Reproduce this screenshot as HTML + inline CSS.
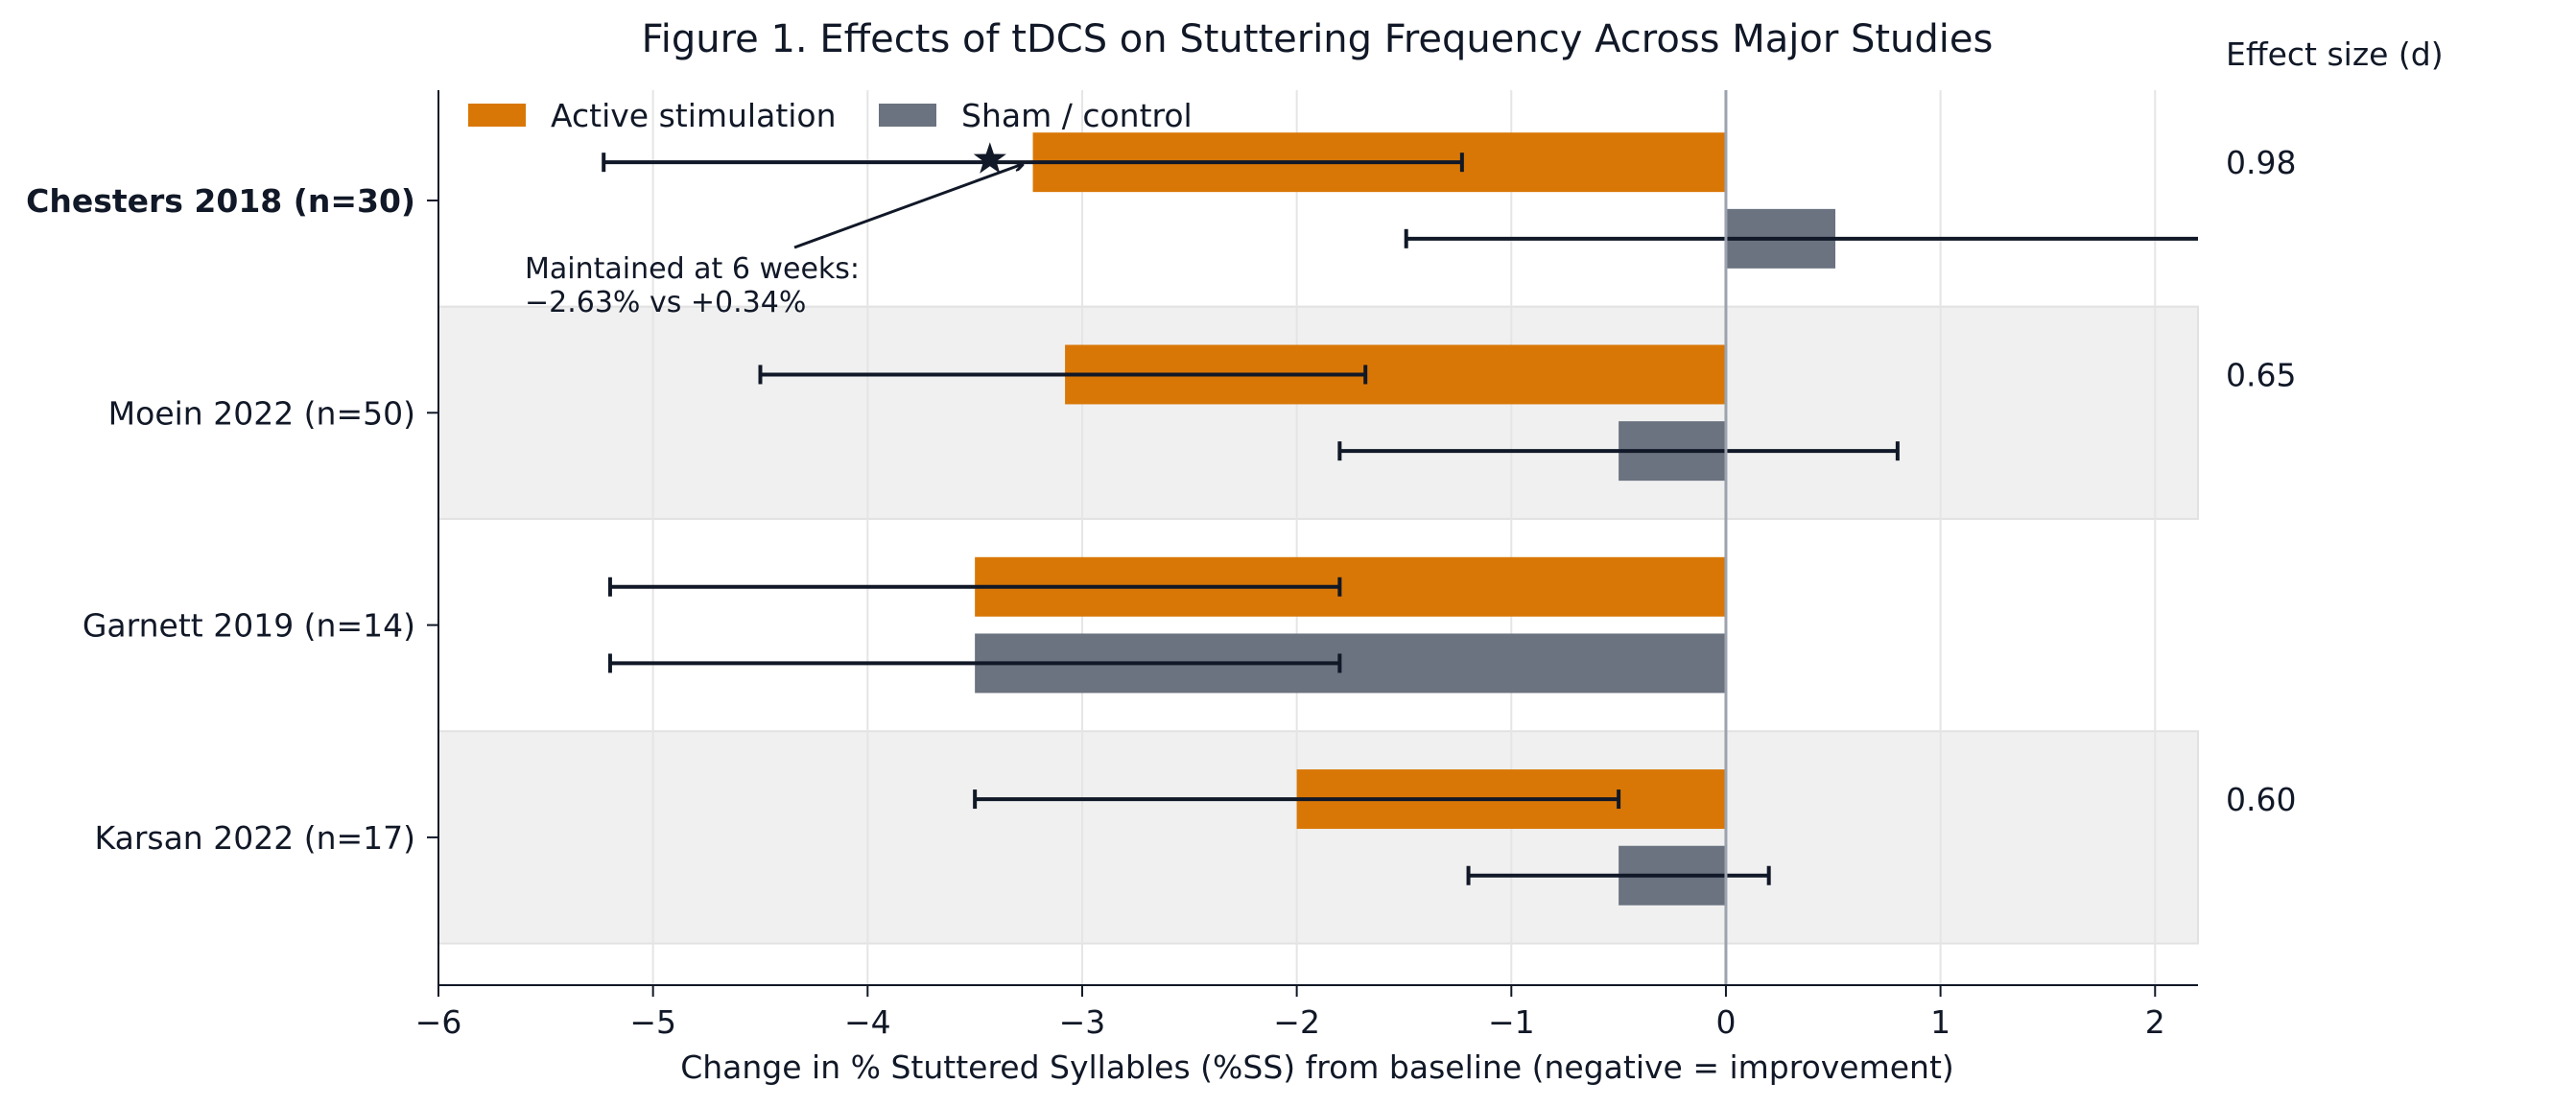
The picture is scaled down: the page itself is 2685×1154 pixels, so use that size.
<!DOCTYPE html>
<html><head><meta charset="utf-8"><style>
html,body{margin:0;padding:0;background:#fff;}
svg{display:block;font-family:"DejaVu Sans","Liberation Sans",sans-serif;}
</style></head><body>
<svg id="chart" width="2685" height="1154" viewBox="0 0 2685 1154" xmlns="http://www.w3.org/2000/svg">
<text x="1373" y="54" font-size="40" fill="#111827" text-anchor="middle">Figure 1. Effects of tDCS on Stuttering Frequency Across Major Studies</text>
<g id="bands"></g><g id="grid"></g><g id="bars"></g><g id="errs"></g><g id="axes"></g><g id="labels"></g>
</svg>
<script>
const studies = ["Chesters 2018 (n=30)", "Moein 2022 (n=50)", "Garnett 2019 (n=14)", "Karsan 2022 (n=17)"];
const activeMean = [-3.23, -3.08, -3.5, -2.0];
const activeLo = [-5.23, -4.5, -5.2, -3.5];
const activeHi = [-1.23, -1.68, -1.8, -0.5];
const shamMean = [0.51, -0.5, -3.5, -0.5];
const shamLo = [-1.49, -1.8, -5.2, -1.2];
const shamHi = [2.51, 0.8, -1.8, 0.2];
const effectSizes = ["0.98", "0.65", null, "0.60"];
const xTicks = [-6, -5, -4, -3, -2, -1, 0, 1, 2];
const xTickLabels = ["\u22126", "\u22125", "\u22124", "\u22123", "\u22122", "\u22121", "0", "1", "2"];

const NS = "http://www.w3.org/2000/svg";
const L = 457, R = 2291, T = 94, B = 1027;
const xMin = -6, xMax = 2.2;
const X = v => L + (v - xMin) / (xMax - xMin) * (R - L);
const Y = i => 209 + i * 221.3;
const U = 221.3;
function mk(parent, tag, attrs, text) {
  const e = document.createElementNS(NS, tag);
  for (const k in attrs) e.setAttribute(k, attrs[k]);
  if (text !== undefined) e.textContent = text;
  document.getElementById(parent).appendChild(e);
  return e;
}
studies.forEach((s, i) => {
  if (i % 2 === 1) {
    const b = mk('bands', 'rect', {x: L, y: Y(i) - U / 2, width: R - L, height: U, fill: '#f0f0f0', stroke: '#e2e2e2', 'stroke-width': 2});
    
    
  }
});
xTicks.forEach(t => {
  const g = mk('grid', 'line', {x1: X(t), x2: X(t), y1: T, y2: B, stroke: '#e5e5e5', 'stroke-width': 2});
  
  
});
const off = 0.18 * U, bh = 0.28 * U;
function bar(v, i, sign, color, name) {
  const x0 = Math.min(X(0), X(v)), w = Math.abs(X(v) - X(0));
  const r = mk('bars', 'rect', {x: x0, y: Y(i) + sign * off - bh / 2, width: w, height: bh, fill: color});
  
  
}
function err(lo, hi, i, sign, name) {
  const y = Y(i) + sign * off;
  const a = Math.max(X(lo), L), b = Math.min(X(hi), R);
  const g = document.createElementNS(NS, 'g');
  
  
  document.getElementById('errs').appendChild(g);
  const add = (x1, y1, x2, y2) => { const l = document.createElementNS(NS, 'line'); l.setAttribute('x1', x1); l.setAttribute('y1', y1); l.setAttribute('x2', x2); l.setAttribute('y2', y2); l.setAttribute('stroke', '#111827'); l.setAttribute('stroke-width', 4); g.appendChild(l); };
  add(a, y, b, y);
  if (X(lo) >= L) add(X(lo), y - 10, X(lo), y + 10);
  if (X(hi) <= R) add(X(hi), y - 10, X(hi), y + 10);
}
studies.forEach((s, i) => {
  bar(activeMean[i], i, -1, '#d97706', 'active-bar');
  bar(shamMean[i], i, 1, '#6b7280', 'sham-bar');
  err(activeLo[i], activeHi[i], i, -1, 'active-error-bar');
  err(shamLo[i], shamHi[i], i, 1, 'sham-error-bar');
  const t = mk('labels', 'text', {x: 433, y: Y(i) + 12, 'font-size': 33, 'text-anchor': 'end', fill: '#111827', 'font-weight': i === 0 ? 'bold' : 'normal'}, s);
  
  
  const tk = mk('axes', 'line', {x1: L - 12, x2: L, y1: Y(i), y2: Y(i), stroke: '#111827', 'stroke-width': 2});
  
  
  if (effectSizes[i]) {
    const e = mk('labels', 'text', {x: 2320, y: Y(i) - off + 12, 'font-size': 33, fill: '#111827'}, effectSizes[i]);
    
    
  }
});
const z = mk('axes', 'line', {x1: X(0), x2: X(0), y1: T, y2: B, stroke: '#9ca3af', 'stroke-width': 3});


const ax = mk('axes', 'line', {x1: L, x2: L, y1: T, y2: B, stroke: '#111827', 'stroke-width': 2});


const bx = mk('axes', 'line', {x1: L, x2: R, y1: B, y2: B, stroke: '#111827', 'stroke-width': 2});


xTicks.forEach((t, k) => {
  const tk = mk('axes', 'line', {x1: X(t), x2: X(t), y1: B, y2: B + 12, stroke: '#111827', 'stroke-width': 2});
  
  
  const tl = mk('labels', 'text', {x: X(t), y: B + 50, 'font-size': 33, 'text-anchor': 'middle', fill: '#111827'}, xTickLabels[k]);
  
  
});
const sx = X(-3.43), sy = Y(0) - off - 3;
let pts = [];
for (let k = 0; k < 10; k++) { const r = k % 2 ? 7 : 18; const a = -Math.PI / 2 + k * Math.PI / 5; pts.push((sx + r * Math.cos(a)).toFixed(1) + ',' + (sy + r * Math.sin(a)).toFixed(1)); }
const st = mk('labels', 'polygon', {points: pts.join(' '), fill: '#111827'});


</script>
<svg style="position:absolute;left:0;top:0" width="2685" height="1154" xmlns="http://www.w3.org/2000/svg">
<defs><marker id="ah" markerWidth="10" markerHeight="10" refX="9" refY="5" orient="auto" markerUnits="userSpaceOnUse"><path d="M0,0 L10,5 L0,10" fill="none" stroke="#111827" stroke-width="3"/></marker></defs>
<line x1="828" y1="258" x2="1066" y2="171" stroke="#111827" stroke-width="3" marker-end="url(#ah)"/>
<text x="547" y="290" font-size="30" fill="#111827" font-family="DejaVu Sans, Liberation Sans, sans-serif">Maintained at 6 weeks:</text>
<text x="547" y="325" font-size="30" fill="#111827" font-family="DejaVu Sans, Liberation Sans, sans-serif">−2.63% vs +0.34%</text>
<rect x="488" y="108" width="60" height="24" fill="#d97706"/>
<text x="574" y="132" font-size="33" fill="#111827" font-family="DejaVu Sans, Liberation Sans, sans-serif">Active stimulation</text>
<rect x="916" y="108" width="60" height="24" fill="#6b7280"/>
<text x="1002" y="132" font-size="33" fill="#111827" font-family="DejaVu Sans, Liberation Sans, sans-serif">Sham / control</text>
<text x="2320" y="68" font-size="33" fill="#111827" font-family="DejaVu Sans, Liberation Sans, sans-serif">Effect size (d)</text>
<text x="1373" y="1124" font-size="33" fill="#111827" text-anchor="middle" font-family="DejaVu Sans, Liberation Sans, sans-serif">Change in % Stuttered Syllables (%SS) from baseline (negative = improvement)</text>
</svg>
</body></html>
